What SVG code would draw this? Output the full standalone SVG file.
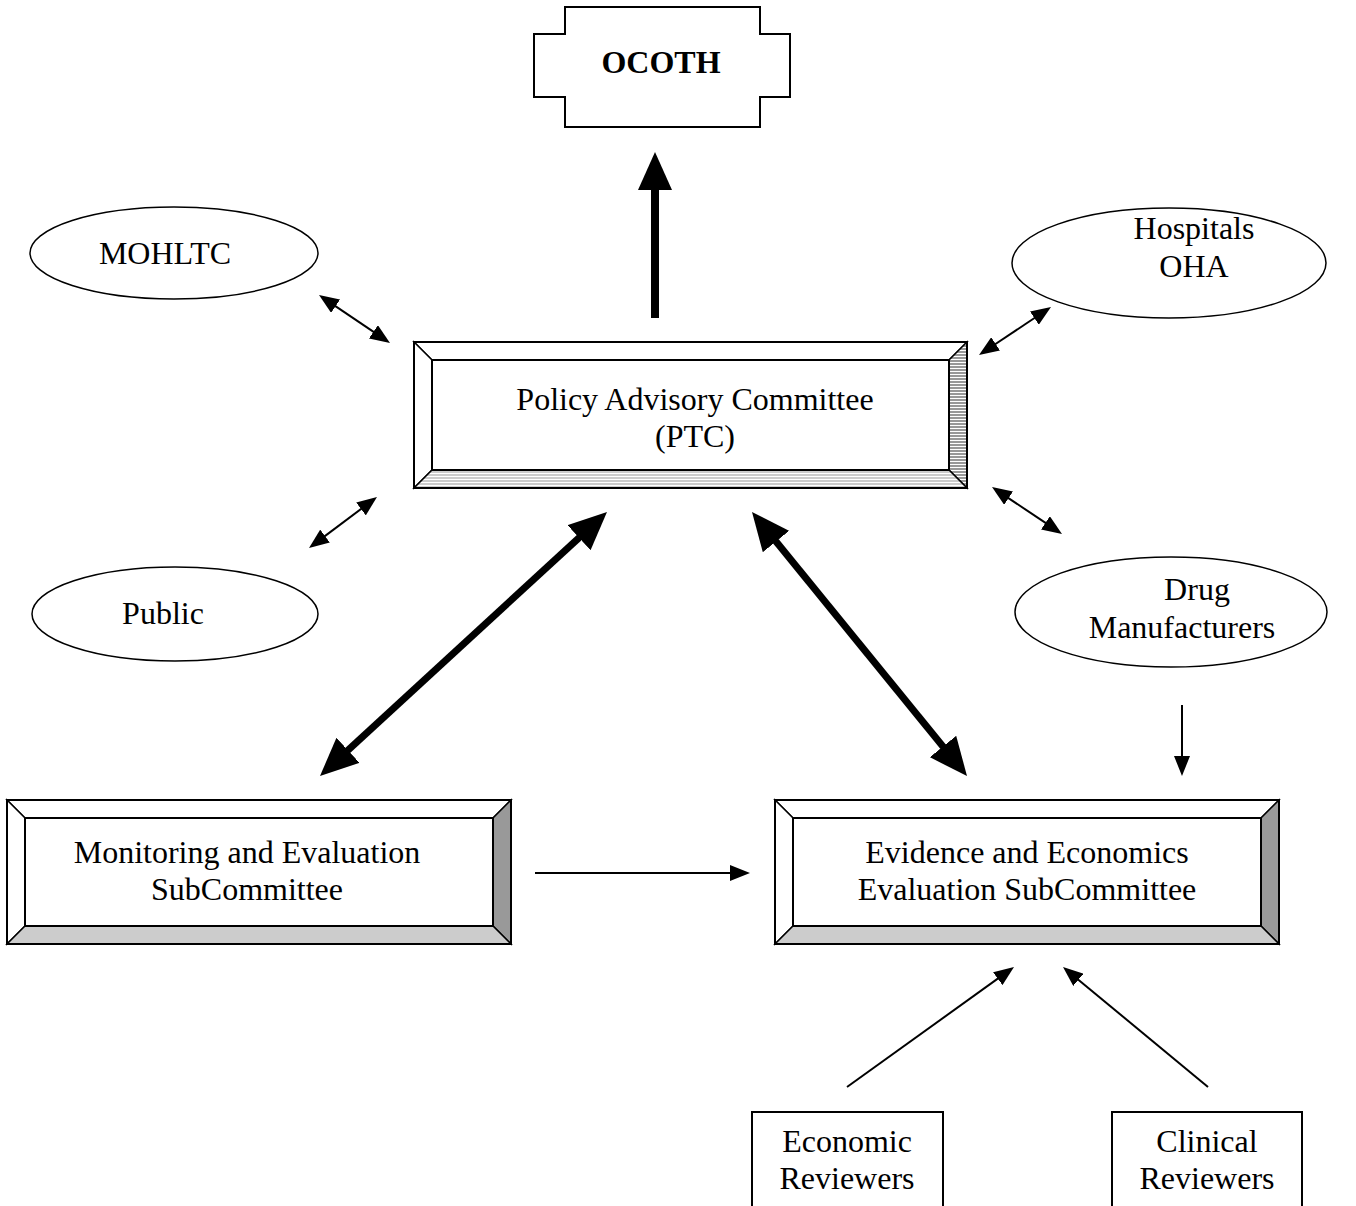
<svg xmlns="http://www.w3.org/2000/svg" width="1356" height="1206" viewBox="0 0 1356 1206">
<style>
text{font-family:"Liberation Serif","Times New Roman",serif;font-size:32px;fill:#000;text-anchor:middle}
.b{font-weight:bold}
.ol{fill:none;stroke:#000;stroke-width:2}
.ell{fill:#fff;stroke:#000;stroke-width:1.5}
.bev{stroke:#000;stroke-width:1.5;stroke-linejoin:miter}
.thin{stroke:#000;stroke-width:2;fill:none}
.thick{stroke:#000;stroke-width:7;fill:none}
</style>
<defs>
<marker id="ht" markerUnits="userSpaceOnUse" viewBox="0 0 20 16" markerWidth="20" markerHeight="16" refX="6" refY="8" orient="auto-start-reverse"><path d="M0,0 L20,8 L0,16 Z" fill="#000"/></marker>
<marker id="hT" markerUnits="userSpaceOnUse" viewBox="0 0 38 34" markerWidth="38" markerHeight="34" refX="8" refY="17" orient="auto-start-reverse"><path d="M0,0 L38,17 L0,34 Z" fill="#000"/></marker>
<pattern id="stripeR" patternUnits="userSpaceOnUse" width="6" height="3"><rect width="6" height="3" fill="#fff"/><rect width="6" height="2" fill="#999"/></pattern>
<pattern id="stripeB" patternUnits="userSpaceOnUse" width="6" height="3"><rect width="6" height="3" fill="#fff"/><rect width="6" height="2" fill="#ccc"/></pattern>
</defs>

<g id="ocoth">
<path class="ol" d="M565,7 H760 V34 H790 V97 H760 V127 H565 V97 H534 V34 H565 Z" fill="#fff"/>
<text class="b" x="661" y="73">OCOTH</text>
</g>

<g id="mohltc">
<ellipse class="ell" cx="174" cy="253" rx="144" ry="46"/>
<text x="165" y="264">MOHLTC</text>
</g>

<g id="hospitals">
<ellipse class="ell" cx="1169" cy="263" rx="157" ry="55"/>
<text x="1194" y="239">Hospitals</text>
<text x="1194" y="277">OHA</text>
</g>

<g id="public">
<ellipse class="ell" cx="175" cy="614" rx="143" ry="47"/>
<text x="163" y="624">Public</text>
</g>

<g id="drug">
<ellipse class="ell" cx="1171" cy="612" rx="156" ry="55"/>
<text x="1197" y="600">Drug</text>
<text x="1182" y="638">Manufacturers</text>
</g>

<g id="ptc">
<rect x="414" y="342" width="553" height="146" fill="#fff"/>
<path class="bev" d="M414,342 H967 L949,360 H432 Z" fill="#fff"/>
<path class="bev" d="M414,342 L432,360 V470 L414,488 Z" fill="#fff"/>
<path class="bev" d="M967,342 V488 L949,470 V360 Z" fill="url(#stripeR)"/>
<path class="bev" d="M414,488 H967 L949,470 H432 Z" fill="url(#stripeB)"/>
<rect class="ol" x="414" y="342" width="553" height="146"/>
<rect class="ol" x="432" y="360" width="517" height="110" fill="#fff"/>
<text x="695" y="410">Policy Advisory Committee</text>
<text x="695" y="447">(PTC)</text>
</g>

<g id="monitoring">
<path class="bev" d="M7,800 H511 L493,818 H25 Z" fill="#fff"/>
<path class="bev" d="M7,800 L25,818 V926 L7,944 Z" fill="#fff"/>
<path class="bev" d="M511,800 V944 L493,926 V818 Z" fill="#999"/>
<path class="bev" d="M7,944 H511 L493,926 H25 Z" fill="#ccc"/>
<rect class="ol" x="7" y="800" width="504" height="144"/>
<rect class="ol" x="25" y="818" width="468" height="108" fill="#fff"/>
<text x="247" y="863">Monitoring and Evaluation</text>
<text x="247" y="900">SubCommittee</text>
</g>

<g id="evidence">
<path class="bev" d="M775,800 H1279 L1261,818 H793 Z" fill="#fff"/>
<path class="bev" d="M775,800 L793,818 V926 L775,944 Z" fill="#fff"/>
<path class="bev" d="M1279,800 V944 L1261,926 V818 Z" fill="#999"/>
<path class="bev" d="M775,944 H1279 L1261,926 H793 Z" fill="#ccc"/>
<rect class="ol" x="775" y="800" width="504" height="144"/>
<rect class="ol" x="793" y="818" width="468" height="108" fill="#fff"/>
<text x="1027" y="863">Evidence and Economics</text>
<text x="1027" y="900">Evaluation SubCommittee</text>
</g>

<g id="economic">
<rect class="ol" x="752" y="1112" width="191" height="120" fill="#fff"/>
<text x="847" y="1152">Economic</text>
<text x="847" y="1189">Reviewers</text>
</g>

<g id="clinical">
<rect class="ol" x="1112" y="1112" width="190" height="120" fill="#fff"/>
<text x="1207" y="1152">Clinical</text>
<text x="1207" y="1189">Reviewers</text>
</g>

<g id="connectors">
<line x1="655" y1="318" x2="655" y2="182" stroke="#000" stroke-width="8" marker-end="url(#hT)"/>
<line class="thick" x1="342.08" y1="755.69" x2="584.92" y2="532.31" marker-start="url(#hT)" marker-end="url(#hT)"/>
<line class="thick" x1="770.95" y1="535.26" x2="948.05" y2="752.74" marker-start="url(#hT)" marker-end="url(#hT)"/>
<line class="thin" x1="330.6" y1="302.84" x2="378.4" y2="335.16" marker-start="url(#ht)" marker-end="url(#ht)"/>
<line class="thin" x1="320.2" y1="539.6" x2="365.8" y2="505.4" marker-start="url(#ht)" marker-end="url(#ht)"/>
<line class="thin" x1="990.65" y1="347.23" x2="1039.35" y2="314.77" marker-start="url(#ht)" marker-end="url(#ht)"/>
<line class="thin" x1="1003.62" y1="494.8" x2="1050.38" y2="526.2" marker-start="url(#ht)" marker-end="url(#ht)"/>
<line class="thin" x1="1182" y1="705" x2="1182" y2="762" marker-end="url(#ht)"/>
<line class="thin" x1="535" y1="873" x2="736" y2="873" marker-end="url(#ht)"/>
<line class="thin" x1="847" y1="1087" x2="1002.63" y2="975.17" marker-end="url(#ht)"/>
<line class="thin" x1="1208" y1="1087" x2="1073.79" y2="975.93" marker-end="url(#ht)"/>
</g>
</svg>
